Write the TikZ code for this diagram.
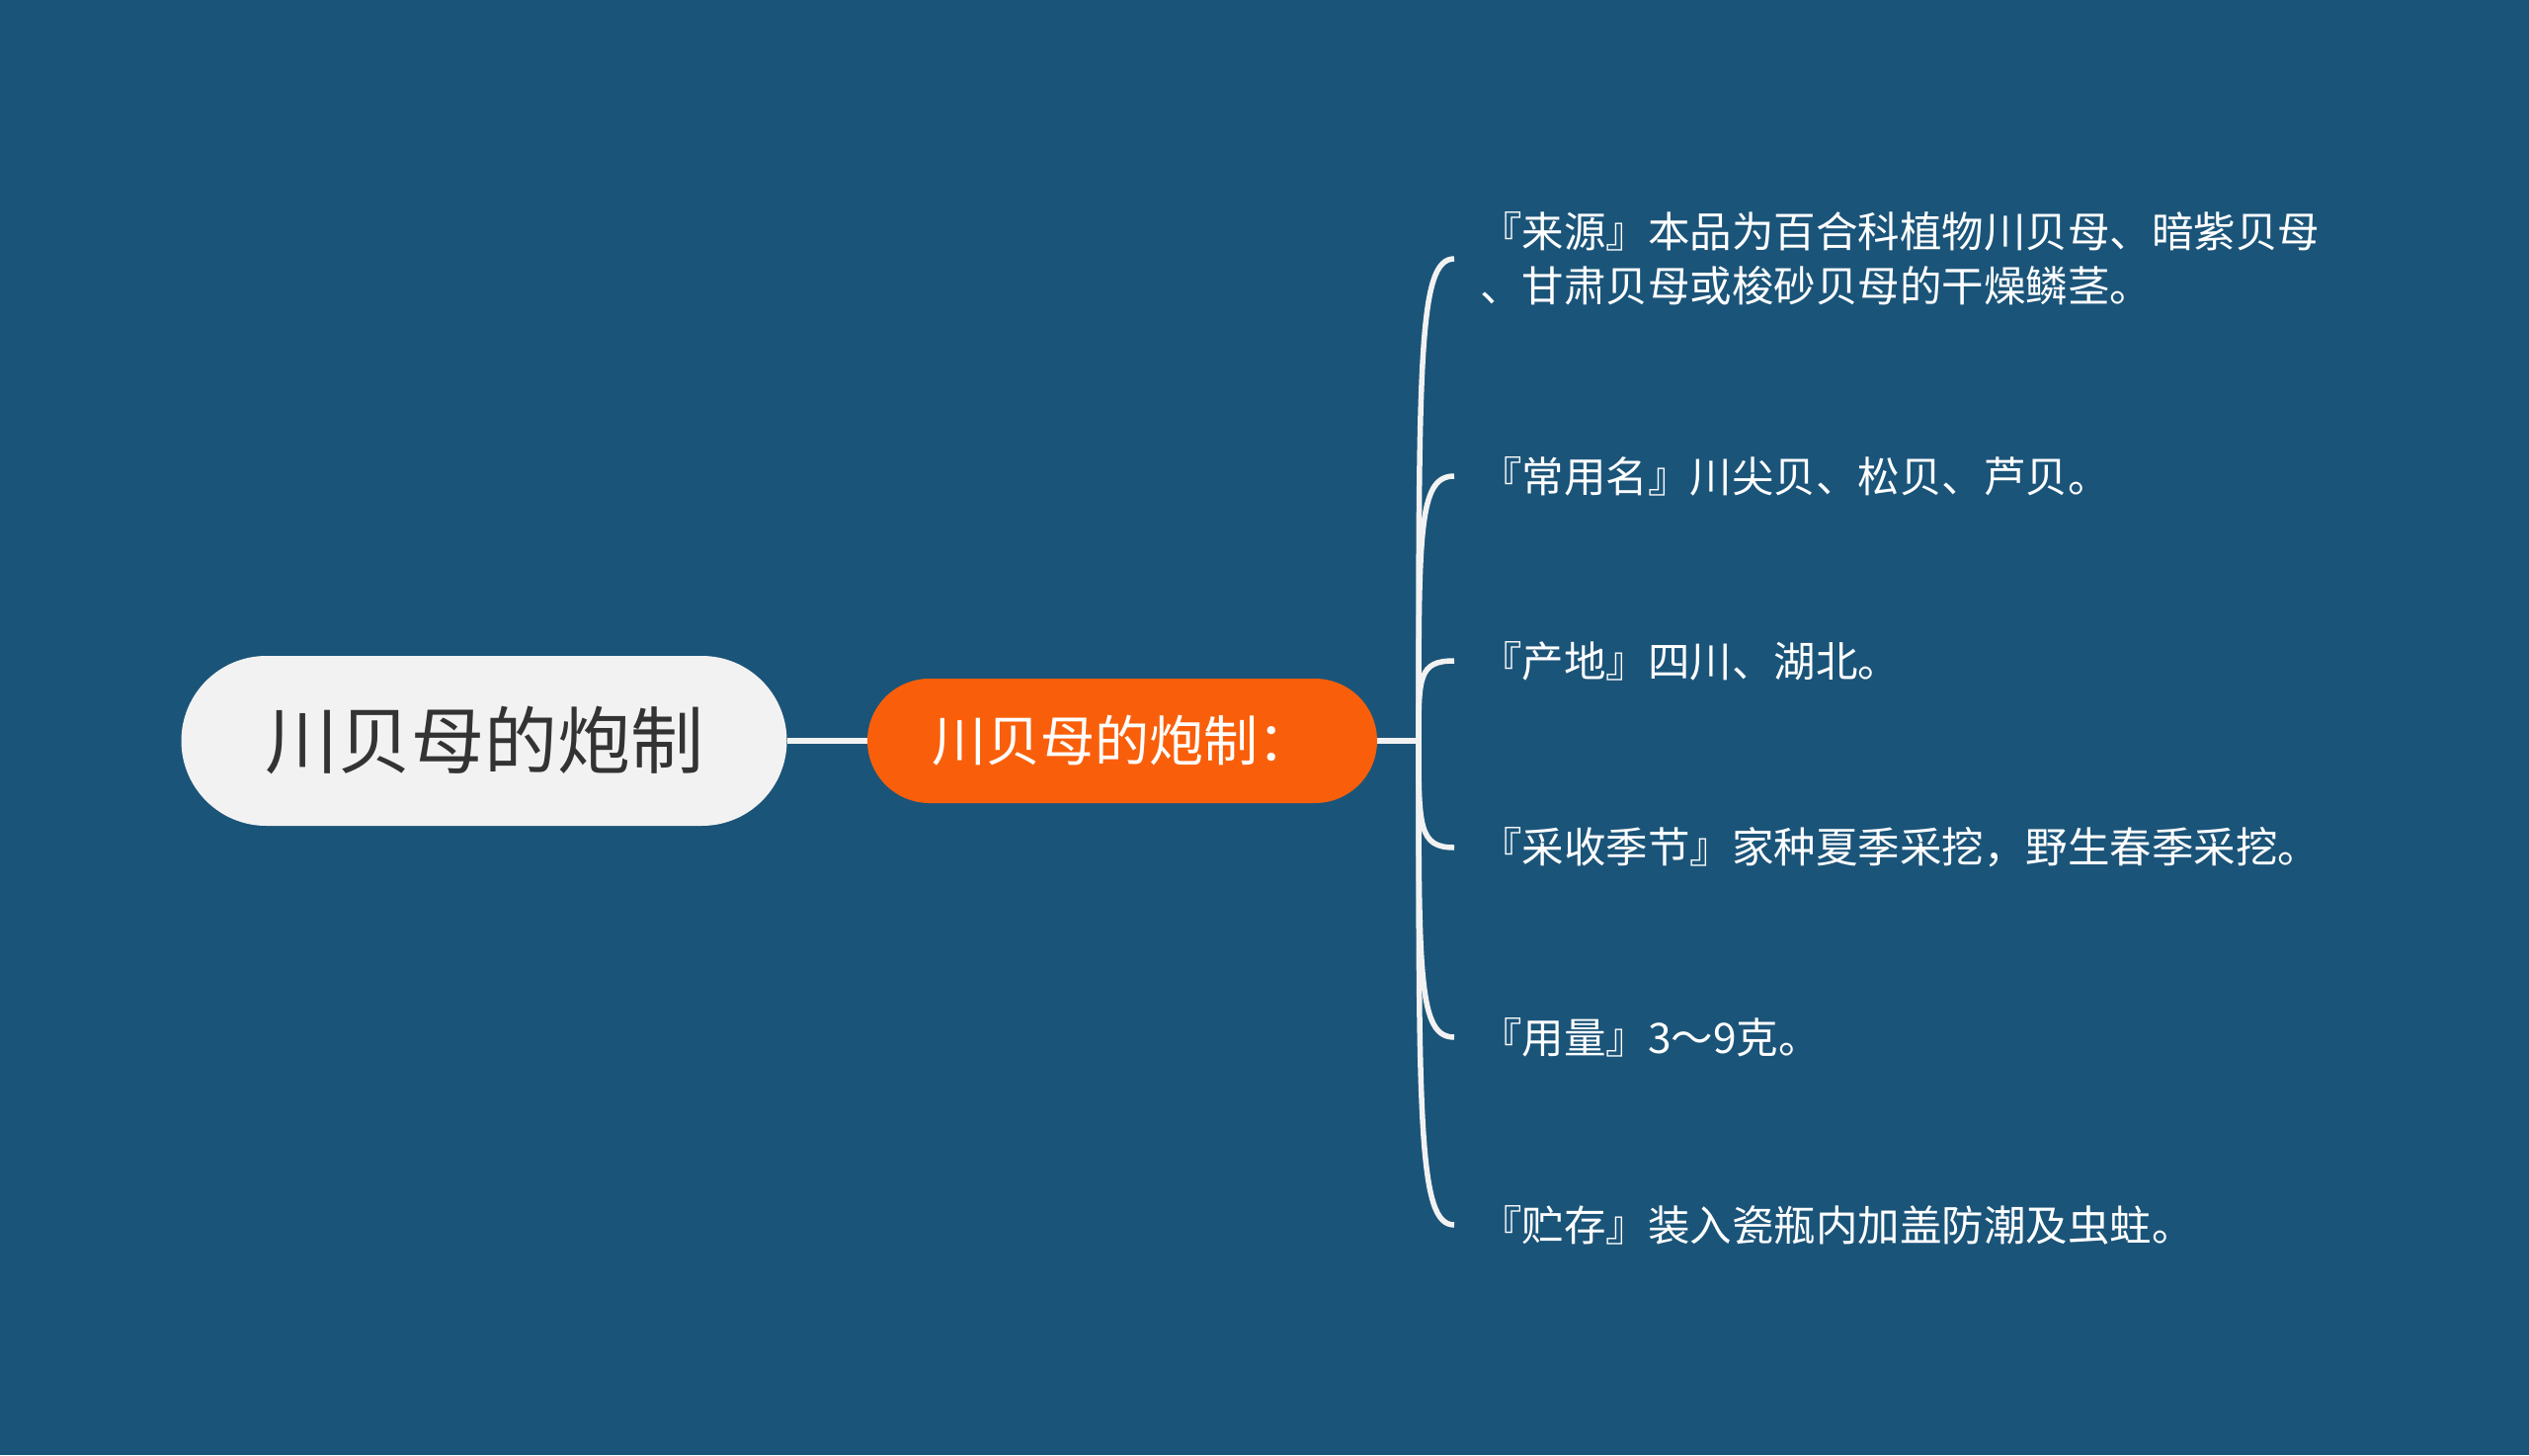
\documentclass[tikz,border=0pt]{standalone}
\usepackage{fontspec}
\setmainfont{Noto Sans CJK SC}
\usetikzlibrary{calc}
\definecolor{bgblue}{HTML}{1B5479}
\definecolor{rootgray}{HTML}{F2F2F2}
\definecolor{roottext}{HTML}{333333}
\definecolor{mainorange}{HTML}{F95F0A}
\definecolor{linkwhite}{HTML}{F2F2F2}

\begin{document}
\begin{tikzpicture}[x=1pt,y=-1pt]
\tikzset{
	root node/.style = {rectangle, rounded corners=86pt, fill=rootgray, text=roottext, minimum width=613pt, minimum height=172pt, font=\fontsize{74}{80}\selectfont},
	main node/.style = {rectangle, rounded corners=63pt, fill=mainorange, text=white, minimum width=516pt, minimum height=126pt, font=\fontsize{55}{60}\selectfont},
	leaf node/.style = {anchor=west, text=white, align=left, inner xsep=26pt, inner ysep=0pt, font=\fontsize{42.5}{55}\selectfont},
	link/.style = {draw=linkwhite, line width=5.5pt}
}
\fill[bgblue] (0,0) rectangle (2560,1473);
\node(root)[root node] at (490,750){川贝母的炮制};
\node(main)[main node] at (1136,750){川贝母的炮制：};
\coordinate(hub) at (1436,750);
\node(l1)[leaf node] at (1472,262){『来源』本品为百合科植物川贝母、暗紫贝母\\、甘肃贝母或梭砂贝母的干燥鳞茎。};
\node(l2)[leaf node] at (1472,482){『常用名』川尖贝、松贝、芦贝。};
\node(l3)[leaf node] at (1472,669){『产地』四川、湖北。};
\node(l4)[leaf node] at (1472,858){『采收季节』家种夏季采挖，野生春季采挖。};
\node(l5)[leaf node] at (1472,1050){『用量』3～9克。};
\node(l6)[leaf node] at (1472,1240){『贮存』装入瓷瓶内加盖防潮及虫蛀。};
\draw[link] (root) -- (main);
\draw[link] (main) -- (hub);
\foreach \n in {l1,l2,l3,l4,l5,l6}
	\draw[link] (hub) .. controls ($(hub)!.8!(hub|-\n.west)$) and (hub|-\n.west) .. (\n.west);
\end{tikzpicture}
\end{document}
